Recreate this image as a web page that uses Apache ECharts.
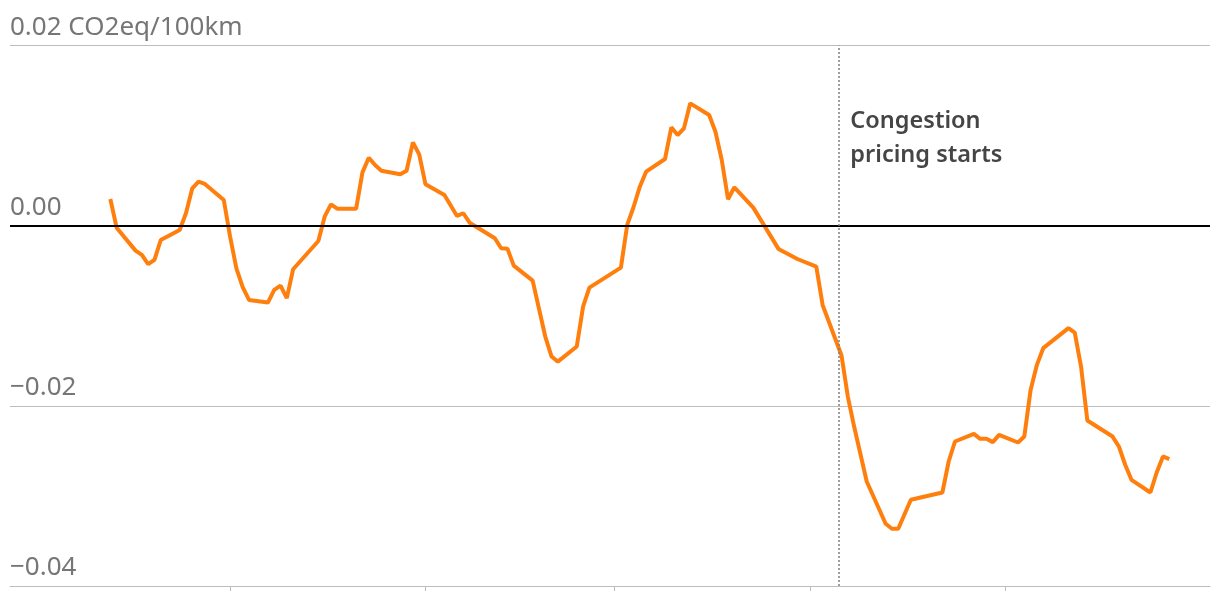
<!DOCTYPE html>
<html><head><meta charset="utf-8">
<script src="https://cdn.jsdelivr.net/npm/echarts@6/dist/echarts.min.js"></script>
<style>html,body{margin:0;padding:0;background:#fff}#c{width:1220px;height:598px}</style>
</head><body><div id="c"></div>
<script>
const dates = ['2024-09-12','2024-09-13','2024-09-16','2024-09-17','2024-09-18','2024-09-19','2024-09-20','2024-09-23','2024-09-24','2024-09-25','2024-09-26','2024-09-27','2024-09-30',
'2024-10-01','2024-10-02','2024-10-03','2024-10-04','2024-10-07','2024-10-08','2024-10-09','2024-10-10','2024-10-11','2024-10-15','2024-10-16','2024-10-17','2024-10-18','2024-10-21','2024-10-22','2024-10-23','2024-10-24','2024-10-25','2024-10-28','2024-10-29','2024-10-30','2024-10-31',
'2024-11-01','2024-11-04','2024-11-06','2024-11-07','2024-11-08','2024-11-12','2024-11-13','2024-11-14','2024-11-15','2024-11-18','2024-11-20','2024-11-21','2024-11-22','2024-11-25','2024-11-26','2024-11-27',
'2024-12-02','2024-12-03','2024-12-04','2024-12-05','2024-12-06','2024-12-09','2024-12-10','2024-12-11','2024-12-12','2024-12-13','2024-12-16','2024-12-17','2024-12-18','2024-12-19','2024-12-20','2024-12-23','2024-12-27','2024-12-30',
'2025-01-02','2025-01-03','2025-01-06','2025-01-07','2025-01-08','2025-01-10','2025-01-13','2025-01-14','2025-01-15','2025-01-17','2025-01-22','2025-01-23','2025-01-24','2025-01-27','2025-01-28','2025-01-29','2025-01-30','2025-01-31',
'2025-02-03','2025-02-04','2025-02-05','2025-02-06','2025-02-07','2025-02-11','2025-02-12','2025-02-13','2025-02-14','2025-02-18','2025-02-19','2025-02-20','2025-02-21','2025-02-24','2025-02-25','2025-02-26','2025-02-27'];
const values = [0.00296,-0.00022,-0.00277,-0.00325,-0.00428,-0.00380,-0.00159,-0.00048,0.00138,0.00415,0.00488,0.00463,0.00285,
-0.00122,-0.00473,-0.00683,-0.00824,-0.00854,-0.00713,-0.00666,-0.00805,-0.00484,-0.00170,0.00100,0.00237,0.00189,0.00189,0.00592,0.00754,0.00673,0.00610,0.00570,0.00610,0.00925,0.00792,
0.00459,0.00340,0.00108,0.00138,0.00033,-0.00140,-0.00251,-0.00255,-0.00444,-0.00610,-0.01231,-0.01453,-0.01509,-0.01342,-0.00899,-0.00688,
-0.00466,0.00008,0.00204,0.00433,0.00599,0.00740,0.01092,0.01006,0.01080,0.01358,0.01228,0.01043,0.00729,0.00293,0.00426,0.00200,-0.00258,-0.00370,
-0.00455,-0.00880,-0.01442,-0.01897,-0.02230,-0.02840,-0.03309,-0.03364,-0.03364,-0.03043,-0.02962,-0.02618,-0.02396,-0.02311,-0.02366,-0.02366,-0.02403,-0.02322,
-0.02407,-0.02341,-0.01823,-0.01545,-0.01360,-0.01138,-0.01187,-0.01564,-0.02163,-0.02341,-0.02451,-0.02654,-0.02821,-0.02962,-0.02740,-0.02562,-0.02591];
const yTickValues = [-0.04, -0.02, 0, 0.02];
const yTickLabels = ['\u22120.04', '\u22120.02', '0.00', '0.02 CO2eq/100km'];
const monthTicks = ['2024-10-01','2024-11-01','2024-12-01','2025-01-01','2025-02-01'];
const xRange = ['2024-08-27 02:00', '2025-03-05 11:00'];
const eventDate = '2025-01-05 12:00';
const eventLabel = 'Congestion\npricing starts';
const eventLabelValue = 0.0097;

function t(s){
  const parts = s.split(' ');
  const d = parts[0].split('-').map(Number);
  let h = 0, m = 0;
  if (parts[1]) { const hm = parts[1].split(':').map(Number); h = hm[0]; m = hm[1]; }
  return new Date(d[0], d[1]-1, d[2], h, m).getTime();
}

const chart = echarts.init(document.getElementById('c'));
chart.setOption({
  animation: false,
  grid: {left: 10, right: 10, top: 45.5, bottom: 12, containLabel: false, outerBoundsMode: 'none'},
  xAxis: {
    type: 'time', min: t(xRange[0]), max: t(xRange[1]),
    axisLine: {show: true, onZero: false, lineStyle: {color: '#bdbdbd', width: 1}},
    axisTick: {show: true, length: 5, lineStyle: {color: '#bdbdbd', width: 1}, customValues: monthTicks.map(t)},
    axisLabel: {show: false},
    splitLine: {show: false}
  },
  yAxis: {
    type: 'value', min: -0.04, max: 0.02, interval: 0.02,
    axisLine: {show: false}, axisTick: {show: false},
    splitLine: {lineStyle: {color: '#bdbdbd', width: 1}},
    axisLabel: {
      inside: true, margin: 0, verticalAlign: 'bottom', padding: [0, 0, 5, 0],
      color: '#767676', fontSize: 26, fontFamily: 'Noto Sans',
      formatter: function(v){
        for (let i = 0; i < yTickValues.length; i++) if (Math.abs(v - yTickValues[i]) < 1e-9) return yTickLabels[i];
        return '';
      }
    }
  },
  series: [{
    type: 'line',
    data: dates.map((d, i) => [t(d), values[i]]),
    symbol: 'none', showSymbol: false,
    lineStyle: {color: '#ff7f0e', width: 4},
    markLine: {
      silent: true, symbol: 'none', label: {show: false},
      data: [
        {yAxis: 0, lineStyle: {color: '#000', width: 2, type: 'solid'}},
        {xAxis: t(eventDate), lineStyle: {color: '#808080', width: 1.5, type: [2, 2]}}
      ]
    },
    markPoint: {
      silent: true, symbol: 'circle', symbolSize: 0,
      data: [{
        coord: [t(eventDate), eventLabelValue],
        label: {
          show: true, position: 'right', distance: 12, formatter: eventLabel,
          align: 'left', color: '#454545', fontSize: 23.5, fontWeight: 600,
          fontFamily: 'Noto Sans', lineHeight: 34
        }
      }]
    }
  }]
});
</script></body></html>
